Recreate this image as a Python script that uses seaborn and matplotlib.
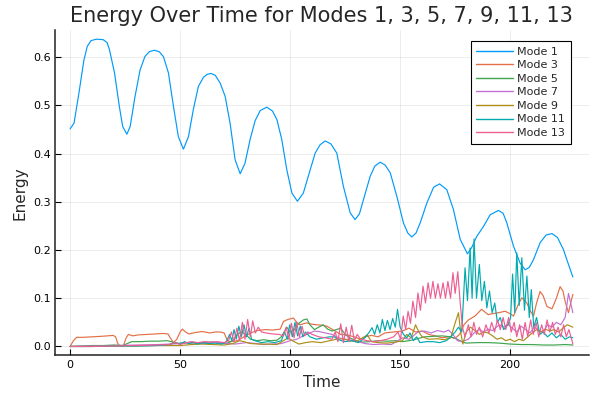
import matplotlib
matplotlib.use("Agg")
import matplotlib.pyplot as plt
import seaborn as sns
import pandas as pd

# ---------------- data ----------------
mode1_t = [0, 1.8, 4, 6.3, 7.8, 9.5, 12, 15, 16.8, 17.9, 20.2, 22.4, 23.9, 25.8, 27.3, 29.5, 31.8, 34, 36, 38.3,
           40.5, 42.4, 44.7, 47, 49.2, 51.5, 53.8, 56, 58.3, 60.6, 62.3, 64, 66, 68.2, 70.5, 72.7, 75, 77.3, 79.5,
           81.8, 84.1, 86.4, 89.4, 92, 94, 96.2, 98.5, 100.8, 103.3, 106, 109.1, 111.4, 113.6, 115.9, 118.5, 121.2,
           124.2, 127.3, 129.5, 131.5, 133.3, 136.4, 138.5, 140.9, 143.2, 145.5, 148.5, 151.5, 153.5, 155.3, 157.2,
           159.1, 162.1, 165.2, 167.9, 171.2, 174.2, 177.3, 180.6, 182.5, 184.8, 187.9, 190.9, 194.7, 196.8, 198.5,
           201.5, 204.5, 206.8, 208.7, 210.6, 213.6, 216.3, 219, 221.5, 224.2, 226.5, 228.5]
mode1_e = [0.451, 0.463, 0.525, 0.594, 0.622, 0.634, 0.637, 0.636, 0.630, 0.615, 0.567, 0.497, 0.456, 0.440, 0.456,
           0.518, 0.573, 0.601, 0.611, 0.614, 0.611, 0.601, 0.567, 0.497, 0.435, 0.409, 0.435, 0.491, 0.539, 0.558,
           0.564, 0.566, 0.562, 0.546, 0.518, 0.463, 0.387, 0.358, 0.380, 0.429, 0.468, 0.489, 0.496, 0.488, 0.470,
           0.429, 0.366, 0.318, 0.301, 0.318, 0.366, 0.401, 0.418, 0.426, 0.420, 0.401, 0.332, 0.277, 0.263, 0.275,
           0.304, 0.353, 0.374, 0.382, 0.376, 0.360, 0.311, 0.256, 0.235, 0.227, 0.235, 0.256, 0.297, 0.330, 0.337,
           0.325, 0.284, 0.222, 0.192, 0.205, 0.228, 0.249, 0.273, 0.282, 0.276, 0.256, 0.208, 0.173, 0.159, 0.164,
           0.180, 0.215, 0.231, 0.234, 0.226, 0.201, 0.170, 0.144]

mode3_t = [0, 1.5, 3, 6, 10, 14, 17, 19.5, 20.7, 21.5, 22.5, 24.2, 25.5, 26.5, 28.5, 31, 35, 39, 42, 44.5, 45.5, 47,
           48.5, 50, 51, 52.5, 54, 57, 60, 63.6, 66, 68.2, 70, 71.5, 73, 76, 79, 82, 85, 89, 92, 95.5, 97, 99, 101.5,
           103, 104.5, 106, 107.6, 110, 112, 114.5, 116.7, 119, 121.2, 123, 126, 129, 132, 134, 137, 140, 143, 147,
           151, 154, 157, 160, 163, 166, 169, 172, 175, 177, 179, 181, 184, 187, 190, 192, 194.7, 197.7, 200, 201.5,
           203.5, 205.3, 207.6, 209, 210.6, 212, 213.6, 215, 216.7, 219, 221, 222.7, 224, 225, 226.5, 227.5, 228.5]
mode3_e = [0.0, 0.012, 0.019, 0.019, 0.020, 0.021, 0.022, 0.023, 0.020, 0.008, 0.001, 0.001, 0.018, 0.025, 0.022,
           0.024, 0.025, 0.026, 0.027, 0.026, 0.018, 0.008, 0.015, 0.030, 0.036, 0.030, 0.026, 0.029, 0.031, 0.028,
           0.030, 0.030, 0.028, 0.012, 0.010, 0.012, 0.020, 0.028, 0.033, 0.035, 0.034, 0.036, 0.052, 0.056, 0.059,
           0.050, 0.045, 0.047, 0.049, 0.046, 0.045, 0.044, 0.042, 0.036, 0.030, 0.025, 0.024, 0.020, 0.015, 0.020,
           0.023, 0.020, 0.028, 0.030, 0.032, 0.038, 0.030, 0.032, 0.025, 0.022, 0.018, 0.020, 0.017, 0.025, 0.045,
           0.055, 0.063, 0.077, 0.066, 0.068, 0.070, 0.073, 0.068, 0.063, 0.085, 0.101, 0.090, 0.075, 0.063, 0.090,
           0.114, 0.105, 0.083, 0.078, 0.100, 0.124, 0.115, 0.093, 0.070, 0.090, 0.108]

mode5_t = [0, 5, 10, 15, 20, 24, 26, 28, 32, 36, 40, 44, 46, 48, 52, 56, 60, 64, 68, 71, 74, 76, 78, 80, 82, 85, 88,
           91, 94, 96, 98.5, 100, 102, 104, 106, 107.6, 109, 111, 113, 115, 117, 119, 121, 123, 125, 127, 130, 133,
           136, 140, 144, 148, 151, 154, 157, 161, 165, 169, 173, 176, 178, 180, 185, 190, 195, 200, 205, 210, 215,
           220, 225, 228.5]
mode5_e = [0.0, 0.001, 0.002, 0.002, 0.003, 0.002, 0.006, 0.010, 0.010, 0.011, 0.011, 0.012, 0.010, 0.006, 0.008,
           0.007, 0.008, 0.009, 0.007, 0.006, 0.012, 0.025, 0.030, 0.024, 0.015, 0.012, 0.014, 0.012, 0.013, 0.020,
           0.040, 0.030, 0.035, 0.048, 0.055, 0.057, 0.045, 0.035, 0.040, 0.045, 0.036, 0.032, 0.035, 0.038, 0.025,
           0.018, 0.012, 0.009, 0.010, 0.012, 0.011, 0.012, 0.010, 0.012, 0.015, 0.020, 0.021, 0.022, 0.020, 0.015,
           0.010, 0.007, 0.008, 0.008, 0.007, 0.005, 0.004, 0.004, 0.003, 0.003, 0.004, 0.003]

mode7_t = [0, 10, 20, 30, 40, 50, 55, 60, 65, 70, 75, 80, 85, 88, 92, 96, 100, 103, 106, 109, 111, 113, 116, 119, 122,
           125, 128, 131, 134, 138, 142, 146, 149, 151, 154, 156, 158, 161, 164, 167, 170, 172, 174, 176, 178, 181,
           184, 186, 188, 190, 192, 195, 197, 199, 201, 203, 205, 207, 209, 211, 213, 215, 217, 219, 221, 223, 225,
           226.5, 227.5, 228.5]
mode7_e = [0.0, 0.001, 0.002, 0.003, 0.004, 0.006, 0.008, 0.006, 0.009, 0.007, 0.005, 0.008, 0.006, 0.004, 0.005,
           0.006, 0.012, 0.015, 0.022, 0.028, 0.032, 0.031, 0.028, 0.025, 0.018, 0.015, 0.013, 0.010, 0.006, 0.004,
           0.005, 0.004, 0.012, 0.018, 0.015, 0.022, 0.030, 0.032, 0.028, 0.033, 0.030, 0.034, 0.025, 0.012, 0.010,
           0.015, 0.030, 0.035, 0.030, 0.036, 0.033, 0.045, 0.040, 0.046, 0.038, 0.030, 0.042, 0.035, 0.028, 0.040,
           0.033, 0.030, 0.045, 0.040, 0.050, 0.045, 0.060, 0.110, 0.090, 0.070]

mode9_t = [0, 10, 20, 30, 40, 50, 55, 60, 65, 70, 74, 77, 79, 82, 86, 90, 94, 97, 99, 101, 104, 107, 110, 114, 118,
           121, 124, 127, 130, 133, 135, 137, 140, 144, 148, 151, 153, 155, 157, 158.5, 160, 163, 167, 170, 173, 175,
           176.5, 177.5, 178.5, 180, 182, 184, 186, 188, 190, 192, 194, 196, 198, 200, 202, 204, 206, 208, 210, 212,
           214, 216, 218, 220, 222, 224, 226, 228.5]
mode9_e = [0.0, 0.0, 0.001, 0.001, 0.002, 0.002, 0.004, 0.005, 0.004, 0.003, 0.006, 0.012, 0.010, 0.006, 0.005,
           0.005, 0.004, 0.012, 0.018, 0.012, 0.005, 0.008, 0.010, 0.008, 0.012, 0.015, 0.016, 0.012, 0.010, 0.018,
           0.024, 0.010, 0.008, 0.007, 0.009, 0.012, 0.025, 0.018, 0.045, 0.030, 0.020, 0.015, 0.016, 0.014, 0.018,
           0.049, 0.070, 0.030, 0.005, 0.030, 0.040, 0.033, 0.025, 0.030, 0.028, 0.022, 0.015, 0.018, 0.012, 0.015,
           0.010, 0.015, 0.012, 0.020, 0.028, 0.035, 0.030, 0.036, 0.032, 0.035, 0.030, 0.038, 0.045, 0.040]

mode11_t = [0, 10, 20, 30, 40, 45, 48, 50, 52, 54, 56, 58, 60, 63, 66, 69, 71, 72.5, 73.5, 74.5, 75.5, 76.7, 77.8, 79,
            80.2, 81.3, 82.5, 84, 87, 90, 93, 96, 97.5, 98.7, 99.8, 101, 102.2, 103.4, 104.6, 105.8, 107, 109, 112,
            115, 118, 120, 122, 125, 128, 131, 134, 136, 137.2, 138.4, 139.6, 140.8, 141.9, 143.1, 144.2, 145.4,
            146.6, 147.8, 148.8, 150, 151.5, 153, 154.5, 156, 157.5, 159, 162, 165, 168, 171, 173, 175, 176.5, 178,
            179.5, 180.6, 181.8, 182.7, 183.6, 184.7, 186, 187.1, 188.3, 189.4, 190.6, 191.8, 193, 194.2, 195.5, 197,
            199, 200.2, 201.1, 202.1, 203, 204.1, 205.3, 206.5, 207.6, 208.7, 209.6, 210.7, 212, 213.5, 215, 217, 219,
            221, 223, 225, 227, 228.5]
mode11_e = [0.0, 0.0, 0.001, 0.001, 0.002, 0.004, 0.008, 0.005, 0.010, 0.006, 0.009, 0.005, 0.008, 0.006, 0.007,
            0.005, 0.010, 0.025, 0.012, 0.035, 0.015, 0.042, 0.020, 0.045, 0.020, 0.038, 0.015, 0.012, 0.008, 0.010,
            0.008, 0.012, 0.030, 0.015, 0.045, 0.020, 0.050, 0.022, 0.042, 0.020, 0.030, 0.020, 0.015, 0.018, 0.020,
            0.020, 0.014, 0.010, 0.012, 0.008, 0.018, 0.030, 0.039, 0.025, 0.045, 0.028, 0.056, 0.033, 0.054, 0.035,
            0.058, 0.040, 0.077, 0.040, 0.025, 0.018, 0.028, 0.012, 0.020, 0.008, 0.010, 0.010, 0.008, 0.012, 0.020,
            0.030, 0.040, 0.030, 0.163, 0.095, 0.204, 0.100, 0.223, 0.100, 0.170, 0.095, 0.135, 0.080, 0.115, 0.070,
            0.090, 0.050, 0.060, 0.035, 0.045, 0.060, 0.150, 0.070, 0.194, 0.085, 0.184, 0.075, 0.146, 0.060, 0.118,
            0.040, 0.060, 0.025, 0.030, 0.020, 0.028, 0.018, 0.025, 0.015, 0.020, 0.018]

mode13_t = [0, 10, 20, 30, 40, 45, 48, 50, 52, 55, 58, 61, 64, 67, 70, 72, 73.3, 74.5, 75.8, 77, 78.3, 79.5, 80.7,
            81.9, 83, 84.2, 85.5, 87, 89, 92, 95, 97, 98.2, 99.4, 100.6, 101.8, 103, 104.2, 105.4, 106.6, 108, 110,
            113, 116, 119, 120.5, 121.7, 123, 124.2, 125.5, 126.7, 128, 129.2, 130.5, 132, 135, 138, 141, 144, 147,
            149, 150.2, 151.4, 152.5, 153.6, 154.7, 155.8, 157, 158.1, 159.2, 160.4, 161.5, 162.7, 163.8, 164.9, 166,
            167.2, 168.3, 169.5, 170.6, 171.7, 172.9, 174, 175, 176.2, 177.3, 178.3, 179.5, 181, 182.2, 183.5, 184.7,
            186, 187.5, 189, 190.3, 191.6, 192.9, 194.2, 195.5, 196.8, 198, 199.3, 200.5, 201.8, 203, 204.3, 205.5,
            206.8, 208, 209.3, 210.5, 211.8, 213, 214.3, 215.5, 216.8, 218, 219.3, 220.5, 221.8, 223, 224.3, 225.5,
            226.7, 228.5]
mode13_e = [0.0, 0.0, 0.001, 0.002, 0.003, 0.004, 0.008, 0.004, 0.007, 0.010, 0.008, 0.010, 0.009, 0.010, 0.008,
            0.012, 0.030, 0.010, 0.038, 0.012, 0.050, 0.015, 0.056, 0.020, 0.053, 0.028, 0.040, 0.030, 0.028, 0.026,
            0.025, 0.022, 0.040, 0.015, 0.048, 0.018, 0.050, 0.020, 0.042, 0.022, 0.030, 0.025, 0.020, 0.018, 0.015,
            0.030, 0.010, 0.047, 0.008, 0.040, 0.010, 0.044, 0.012, 0.025, 0.015, 0.012, 0.010, 0.012, 0.015, 0.020,
            0.030, 0.015, 0.063, 0.035, 0.073, 0.048, 0.094, 0.060, 0.111, 0.075, 0.125, 0.090, 0.132, 0.100, 0.135,
            0.100, 0.130, 0.100, 0.132, 0.100, 0.135, 0.100, 0.153, 0.110, 0.155, 0.090, 0.040, 0.020, 0.045, 0.020,
            0.050, 0.025, 0.040, 0.020, 0.045, 0.028, 0.050, 0.030, 0.055, 0.035, 0.060, 0.035, 0.060, 0.030, 0.050,
            0.020, 0.045, 0.015, 0.050, 0.020, 0.055, 0.025, 0.050, 0.020, 0.045, 0.025, 0.055, 0.030, 0.050, 0.025,
            0.040, 0.020, 0.045, 0.020, 0.035, 0.005]

mode_names = ["Mode 1", "Mode 3", "Mode 5", "Mode 7", "Mode 9", "Mode 11", "Mode 13"]
mode_colors = ["#009AFA", "#E36F47", "#3EA44E", "#C271D2", "#AC8E18", "#00AAAE", "#ED5E93"]
series_t = [mode1_t, mode3_t, mode5_t, mode7_t, mode9_t, mode11_t, mode13_t]
series_e = [mode1_e, mode3_e, mode5_e, mode7_e, mode9_e, mode11_e, mode13_e]

x_ticks = [0, 50, 100, 150, 200]
y_ticks = [0.0, 0.1, 0.2, 0.3, 0.4, 0.5, 0.6]

frames = []
for name, t, e in zip(mode_names, series_t, series_e):
    frames.append(pd.DataFrame({"Time": t, "Energy": e, "Mode": name}))
df = pd.concat(frames, ignore_index=True)

# ---------------- plot ----------------
sns.set_theme(style="white")
plt.rcParams["font.family"] = ["DejaVu Sans"]

fig = plt.figure(figsize=(6, 4), dpi=100)
ax = fig.add_axes([0.0917, 0.1115, 0.8895, 0.8135])

sns.lineplot(data=df, x="Time", y="Energy", hue="Mode", hue_order=mode_names,
             palette=mode_colors, estimator=None, sort=False, linewidth=0.85, ax=ax)

ax.set_xlim(-6.85, 235.7)
ax.set_ylim(-0.0185, 0.656)
ax.set_xticks(x_ticks)
ax.set_xticklabels([str(v) for v in x_ticks])
ax.set_yticks(y_ticks)
ax.set_yticklabels([f"{v:.1f}" for v in y_ticks])
ax.grid(True, color="black", alpha=0.1, linewidth=0.5)
ax.tick_params(direction="in", length=4, width=0.8, labelsize=8, colors="black",
               left=True, bottom=True, pad=3)
for s in ["top", "right"]:
    ax.spines[s].set_visible(False)
for s in ["left", "bottom"]:
    ax.spines[s].set_color("#222222")
    ax.spines[s].set_linewidth(1.1)

ax.set_xlabel("Time", fontsize=11)
ax.set_ylabel("Energy", fontsize=11)
ax.set_title("Energy Over Time for Modes 1, 3, 5, 7, 9, 11, 13", fontsize=15)

leg = ax.legend(loc="upper right", bbox_to_anchor=(0.9663, 0.966), borderaxespad=0.0,
                fontsize=8, frameon=True, fancybox=False,
                edgecolor="black", framealpha=1.0, handlelength=3.3, handletextpad=0.4,
                labelspacing=0.32, borderpad=0.5)
leg.get_frame().set_linewidth(0.8)
for line in leg.get_lines():
    line.set_linewidth(1.0)

fig.savefig("out.png", dpi=100)
